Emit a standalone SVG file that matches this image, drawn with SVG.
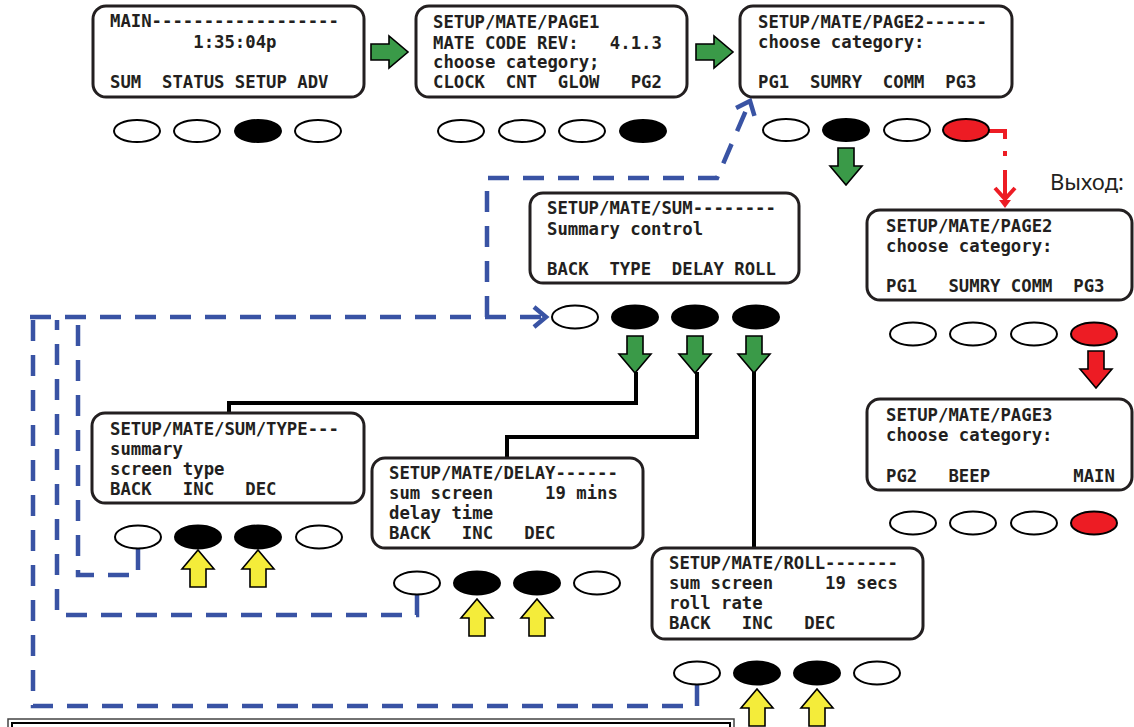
<svg xmlns="http://www.w3.org/2000/svg" xmlns:xlink="http://www.w3.org/1999/xlink" width="1134" height="727" viewBox="0 0 1134 727">
  <style>
    .scr { fill:#fff; stroke:#231f20; stroke-width:3; }
    .t { font-family:"DejaVu Sans Mono","Liberation Mono",monospace; font-weight:bold; font-size:17.3px; fill:#231f20; white-space:pre; }
    .lbl { font-family:"Noto Sans","Open Sans",sans-serif; font-size:22px; fill:#231f20; }
    .bw { fill:#fff; stroke:#000; stroke-width:2; }
    .bb { fill:#000; stroke:#000; stroke-width:2; }
    .br { fill:#ed1c24; stroke:#000; stroke-width:2; }
    .ga { fill:#3a9a48; stroke:#000; stroke-width:1.6; }
    .ya { fill:#f4ec3a; stroke:#000; stroke-width:1.6; }
    .ra { fill:#ed1c24; stroke:#000; stroke-width:1.6; }
    .blue { fill:none; stroke:#3953a4; stroke-width:4.5; stroke-dasharray:21 14; }
    .wire { fill:none; stroke:#000; stroke-width:4; }
    .red { fill:none; stroke:#ed1c24; stroke-width:4; }
  </style>
  <defs>
    <!-- block arrow, tip at origin, pointing down -->
    <path id="arr" d="M-8,-37 H8 V-19 H16 L0,0 L-16,-19 H-8 Z"/>
    <marker id="chev" markerUnits="userSpaceOnUse" markerWidth="26" markerHeight="26" refX="16" refY="13" orient="auto">
      <path d="M4,3 L16,13 L4,23" fill="none" stroke="#3953a4" stroke-width="4.5"/>
    </marker>
  </defs>

  <!-- connectors -->
  <g id="connectors">
    <!-- BACK paths (blue dashed) -->
    <path class="blue" d="M30,317 H546" marker-end="url(#chev)"/>
    <path class="blue" d="M487,317 V178 H717 L750,101" marker-end="url(#chev)"/>
    <path class="blue" d="M697,685 V706 H33 V320"/>
    <path class="blue" d="M417,595 V615 H57 V320"/>
    <path class="blue" d="M138,549 V575 H78 V322"/>

    <!-- menu wires -->
    <path class="wire" d="M636,372 V403 H229 V413"/>
    <path class="wire" d="M697,372 V437 H507 V458"/>
    <path class="wire" d="M754,372 V548"/>

    <!-- exit path (red dash-dot) -->
    <path class="red" d="M989,131 H1005 V186" stroke-dasharray="24 12 5 14 16 100"/>
    <path class="red" d="M1005,186 V199 M995,188 L1005,199 L1015,188"/>
    <path d="M999,200 H1011 L1005,208 Z" fill="#ed1c24"/>

    <!-- green block arrows -->
    <use href="#arr" class="ga" transform="translate(408,52) rotate(-90)"/>
    <use href="#arr" class="ga" transform="translate(733,52) rotate(-90)"/>
    <use href="#arr" class="ga" transform="translate(846,185)"/>
    <use href="#arr" class="ga" transform="translate(635,373)"/>
    <use href="#arr" class="ga" transform="translate(695,373)"/>
    <use href="#arr" class="ga" transform="translate(754,373)"/>

    <!-- red block arrow -->
    <use href="#arr" class="ra" transform="translate(1096,388)"/>

    <!-- yellow INC/DEC arrows -->
    <use href="#arr" class="ya" transform="translate(198,550) rotate(180)"/>
    <use href="#arr" class="ya" transform="translate(258,550) rotate(180)"/>
    <use href="#arr" class="ya" transform="translate(477,599) rotate(180)"/>
    <use href="#arr" class="ya" transform="translate(537,599) rotate(180)"/>
    <use href="#arr" class="ya" transform="translate(757,689) rotate(180)"/>
    <use href="#arr" class="ya" transform="translate(817,689) rotate(180)"/>
  </g>

  <!-- MAIN screen -->
  <g id="main">
    <rect class="scr" x="93" y="6" width="271" height="91" rx="13"/>
    <text class="t" x="110" y="27" xml:space="preserve">MAIN------------------</text>
    <text class="t" x="110" y="48" xml:space="preserve">        1:35:04p</text>
    <text class="t" x="110" y="88" xml:space="preserve">SUM  STATUS SETUP ADV</text>
    <ellipse class="bw" cx="137" cy="131" rx="23" ry="11"/>
    <ellipse class="bw" cx="197" cy="131" rx="23" ry="11"/>
    <ellipse class="bb" cx="258" cy="131" rx="23" ry="11"/>
    <ellipse class="bw" cx="318" cy="131" rx="23" ry="11"/>
  </g>

  <!-- SETUP/MATE/PAGE1 -->
  <g id="page1">
    <rect class="scr" x="416" y="6" width="271" height="91" rx="13"/>
    <text class="t" x="433" y="28" xml:space="preserve">SETUP/MATE/PAGE1</text>
    <text class="t" x="433" y="49" xml:space="preserve">MATE CODE REV:   4.1.3</text>
    <text class="t" x="433" y="68" xml:space="preserve">choose category;</text>
    <text class="t" x="433" y="88" xml:space="preserve">CLOCK  CNT  GLOW   PG2</text>
    <ellipse class="bw" cx="461" cy="131" rx="23" ry="11"/>
    <ellipse class="bw" cx="522" cy="131" rx="23" ry="11"/>
    <ellipse class="bw" cx="582" cy="131" rx="23" ry="11"/>
    <ellipse class="bb" cx="643" cy="131" rx="23" ry="11"/>
  </g>

  <!-- SETUP/MATE/PAGE2 -->
  <g id="page2">
    <rect class="scr" x="740" y="6" width="272" height="91" rx="13"/>
    <text class="t" x="758" y="28" xml:space="preserve">SETUP/MATE/PAGE2------</text>
    <text class="t" x="758" y="48" xml:space="preserve">choose category:</text>
    <text class="t" x="758" y="88" xml:space="preserve">PG1  SUMRY  COMM  PG3</text>
    <ellipse class="bw" cx="786" cy="130" rx="23" ry="11"/>
    <ellipse class="bb" cx="846" cy="130" rx="23" ry="11"/>
    <ellipse class="bw" cx="907" cy="130" rx="23" ry="11"/>
    <ellipse class="br" cx="966" cy="130" rx="23" ry="11"/>
  </g>

  <text class="lbl" x="1050" y="190">Выход:</text>

  <!-- exit: PAGE2 -->
  <g id="exit-page2">
    <rect class="scr" x="867" y="210" width="265" height="90" rx="13"/>
    <text class="t" x="886" y="232" xml:space="preserve">SETUP/MATE/PAGE2</text>
    <text class="t" x="886" y="252" xml:space="preserve">choose category:</text>
    <text class="t" x="886" y="292" xml:space="preserve">PG1   SUMRY COMM  PG3</text>
    <ellipse class="bw" cx="913" cy="334" rx="23" ry="11.5"/>
    <ellipse class="bw" cx="973" cy="334" rx="23" ry="11.5"/>
    <ellipse class="bw" cx="1034" cy="334" rx="23" ry="11.5"/>
    <ellipse class="br" cx="1094" cy="334" rx="23" ry="11.5"/>
  </g>

  <!-- exit: PAGE3 -->
  <g id="exit-page3">
    <rect class="scr" x="867" y="399" width="265" height="91" rx="13"/>
    <text class="t" x="886" y="421" xml:space="preserve">SETUP/MATE/PAGE3</text>
    <text class="t" x="886" y="441" xml:space="preserve">choose category:</text>
    <text class="t" x="886" y="482" xml:space="preserve">PG2   BEEP        MAIN</text>
    <ellipse class="bw" cx="913" cy="523" rx="23" ry="11.5"/>
    <ellipse class="bw" cx="973" cy="523" rx="23" ry="11.5"/>
    <ellipse class="bw" cx="1034" cy="523" rx="23" ry="11.5"/>
    <ellipse class="br" cx="1094" cy="523" rx="23" ry="11.5"/>
  </g>

  <!-- SETUP/MATE/SUM -->
  <g id="sum">
    <rect class="scr" x="530" y="193" width="269" height="90" rx="13"/>
    <text class="t" x="547" y="214" xml:space="preserve">SETUP/MATE/SUM--------</text>
    <text class="t" x="547" y="235" xml:space="preserve">Summary control</text>
    <text class="t" x="547" y="275" xml:space="preserve">BACK  TYPE  DELAY ROLL</text>
    <ellipse class="bw" cx="575" cy="317" rx="23" ry="11.5"/>
    <ellipse class="bb" cx="635" cy="317" rx="23" ry="11.5"/>
    <ellipse class="bb" cx="695" cy="317" rx="23" ry="11.5"/>
    <ellipse class="bb" cx="756" cy="317" rx="23" ry="11.5"/>
  </g>

  <!-- SETUP/MATE/SUM/TYPE -->
  <g id="type">
    <rect class="scr" x="92" y="413" width="272" height="90" rx="13"/>
    <text class="t" x="110" y="435" xml:space="preserve">SETUP/MATE/SUM/TYPE---</text>
    <text class="t" x="110" y="455" xml:space="preserve">summary</text>
    <text class="t" x="110" y="475" xml:space="preserve">screen type</text>
    <text class="t" x="110" y="495" xml:space="preserve">BACK   INC   DEC</text>
    <ellipse class="bw" cx="138" cy="537" rx="23" ry="11.5"/>
    <ellipse class="bb" cx="198" cy="537" rx="23" ry="11.5"/>
    <ellipse class="bb" cx="258" cy="537" rx="23" ry="11.5"/>
    <ellipse class="bw" cx="319" cy="537" rx="23" ry="11.5"/>
  </g>

  <!-- SETUP/MATE/DELAY -->
  <g id="delay">
    <rect class="scr" x="372" y="458" width="271" height="90" rx="13"/>
    <text class="t" x="389" y="479" xml:space="preserve">SETUP/MATE/DELAY------</text>
    <text class="t" x="389" y="499" xml:space="preserve">sum screen     19 mins</text>
    <text class="t" x="389" y="519" xml:space="preserve">delay time</text>
    <text class="t" x="389" y="539" xml:space="preserve">BACK   INC   DEC</text>
    <ellipse class="bw" cx="417" cy="583" rx="23" ry="11.5"/>
    <ellipse class="bb" cx="477" cy="583" rx="23" ry="11.5"/>
    <ellipse class="bb" cx="537" cy="583" rx="23" ry="11.5"/>
    <ellipse class="bw" cx="597" cy="583" rx="23" ry="11.5"/>
  </g>

  <!-- SETUP/MATE/ROLL -->
  <g id="roll">
    <rect class="scr" x="652" y="548" width="271" height="91" rx="13"/>
    <text class="t" x="669" y="569" xml:space="preserve">SETUP/MATE/ROLL-------</text>
    <text class="t" x="669" y="589" xml:space="preserve">sum screen     19 secs</text>
    <text class="t" x="669" y="609" xml:space="preserve">roll rate</text>
    <text class="t" x="669" y="629" xml:space="preserve">BACK   INC   DEC</text>
    <ellipse class="bw" cx="697" cy="673" rx="23" ry="11.5"/>
    <ellipse class="bb" cx="757" cy="673" rx="23" ry="11.5"/>
    <ellipse class="bb" cx="817" cy="673" rx="23" ry="11.5"/>
    <ellipse class="bw" cx="877" cy="673" rx="23" ry="11.5"/>
  </g>

  <!-- framed panel along the bottom edge -->
  <g id="panel">
    <rect x="8" y="719" width="726" height="30" fill="#fff" stroke="#444" stroke-width="1.5"/>
    <rect x="12" y="723" width="718" height="30" fill="none" stroke="#000" stroke-width="2"/>
  </g>
</svg>
